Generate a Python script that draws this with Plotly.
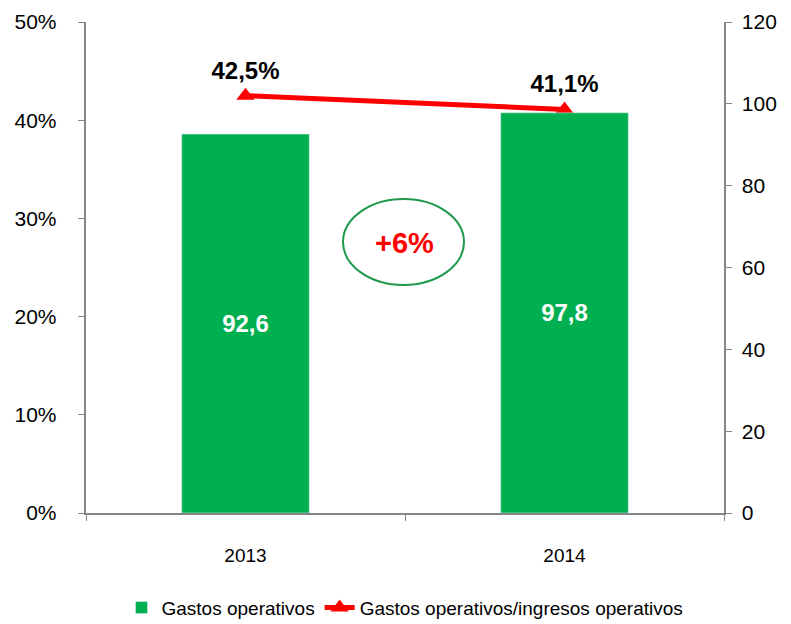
import plotly.graph_objects as go

# Datos
anios = ['2013', '2014']
gastos = [92.6, 97.8]
ratio = [42.5, 41.1]
gastos_txt = ['92,6', '97,8']
ratio_txt = ['42,5%', '41,1%']
ticks_izq = [0, 10, 20, 30, 40, 50]
ticks_der = [0, 20, 40, 60, 80, 100, 120]

verde = '#00B050'
rojo = '#FF0000'
gris = '#868686'
fuente = 'Liberation Sans, Arial'
nb = '\u00a0'
hueco = '<span style="font-size:10px">' + nb + '</span>'

fig = go.Figure()

fig.add_trace(go.Bar(
    x=anios, y=gastos, yaxis='y2',
    name='Gastos operativos',
    marker_color=verde,
    text=gastos_txt, textposition='inside', insidetextanchor='middle',
    textfont=dict(color='white', size=24, family=fuente, weight='bold'),
))

fig.add_trace(go.Scatter(
    x=anios, y=ratio, yaxis='y',
    name='Gastos operativos/ingresos operativos',
    mode='lines+markers+text',
    line=dict(color=rojo, width=5),
    marker=dict(symbol='triangle-up', size=16, color=rojo),
    text=['<b>' + t + '</b>' for t in ratio_txt],
    textposition='top center',
    textfont=dict(color='black', size=24, family=fuente),
))

# la página añade 8 px de margen: se compensa
fig.update_layout(
    width=783, height=616,
    margin=dict(l=78, r=67, t=14, b=111, autoexpand=False),
    paper_bgcolor='white', plot_bgcolor='white',
    font=dict(family=fuente, size=21, color='black'),
    bargap=0.6,
    xaxis=dict(
        showline=True, linecolor=gris, linewidth=1.5, automargin=False,
        ticks='outside', tickson='boundaries', tickcolor=gris, ticklen=6,
        tickvals=anios, ticktext=[hueco + '<br>' + a for a in anios],
        tickangle=0, tickfont=dict(size=19), showgrid=False,
    ),
    yaxis=dict(
        range=[0, 50], tickvals=ticks_izq, automargin=False,
        ticktext=[f'{v}%' + nb * 3 for v in ticks_izq],
        showline=True, linecolor=gris, linewidth=1.5,
        ticks='outside', tickcolor=gris, ticklen=6,
        showgrid=False, zeroline=False,
    ),
    yaxis2=dict(
        range=[0, 120], tickvals=ticks_der, automargin=False,
        ticktext=[nb + str(v) for v in ticks_der],
        overlaying='y', side='right',
        showline=True, linecolor=gris, linewidth=1.5,
        ticks='outside', tickcolor=gris, ticklen=6,
        showgrid=False, zeroline=False,
    ),
    legend=dict(
        orientation='h', x=0.5, xanchor='center', y=-0.193, yanchor='middle',
        font=dict(size=19), tracegroupgap=0,
    ),
    showlegend=True,
)

# Óvalo con la variación
fig.add_shape(type='circle', xref='paper', yref='paper',
              x0=(343 - 86) / 638, x1=(464 - 86) / 638,
              y0=(513 - 285) / 491, y1=(513 - 199) / 491,
              line=dict(color='#1E9A4A', width=2))
fig.add_annotation(xref='paper', yref='paper',
                   x=(404 - 86) / 638, y=(513 - 243) / 491,
                   text='<b>+6%</b>', showarrow=False,
                   font=dict(color=rojo, size=29, family=fuente))

fig.write_html('out.html')
